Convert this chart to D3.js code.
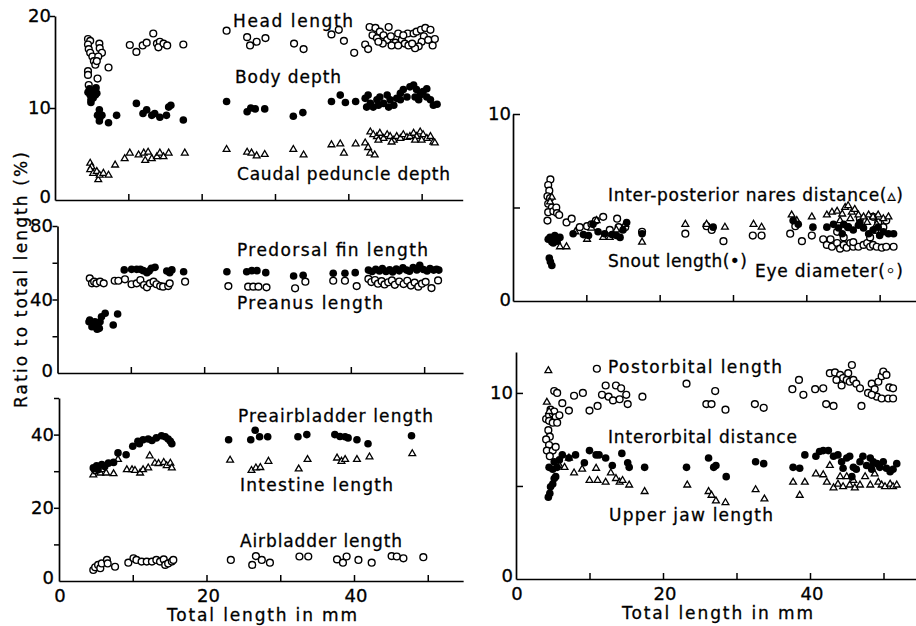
<!DOCTYPE html>
<html><head><meta charset="utf-8">
<script src="https://cdn.jsdelivr.net/npm/d3@7/dist/d3.min.js"></script>
<style>
html,body{margin:0;padding:0;background:#fff;}
svg{display:block;}
text{font-family:"DejaVu Sans",sans-serif;fill:#000;stroke:#000;stroke-width:0.3px;}
</style>
</head><body>
<svg id="chart" width="916" height="626"></svg>
<script>
// ---------------- DATA: [total length (mm), ratio to total length (%)] ----------------
const headLength = [[4.5,17.5],[4.8,17.3],[4.5,16.9],[4.6,16.4],[4.8,16.0],[5.1,15.6],[5.3,15.1],[5.5,14.7],[6.05,17.0],[6.1,16.5],[6.4,16.0],[5.9,15.6],[5.7,15.1],[4.5,14.0],[4.5,13.6],[5.8,13.2],[4.6,12.5],[7.3,14.4],[10.2,16.85],[11.1,16.1],[11.96,16.8],[12.5,17.1],[13.4,18.1],[13.9,17.0],[14.3,17.2],[14.1,16.6],[14.8,17.0],[15.3,16.8],[17.5,16.9],[23.4,18.4],[26.2,17.7],[26.6,16.8],[27.5,17.2],[28.7,17.6],[32.6,17.0],[33.9,16.4],[37.7,18.0],[38.7,18.5],[39.4,17.3],[40.8,16.0],[42.3,16.9],[42.7,16.4],
[42.9,18.8],[43.7,18.7],[44.3,18.3],[45.5,18.8],[43.3,17.9],[43.9,17.6],[44.8,17.9],[45.3,17.4],[45.8,17.8],[46.4,17.1],[46.8,18.1],[47.3,17.4],[47.7,17.0],[48.2,16.8],[48.1,18.1],[48.9,18.1],[49.3,18.3],[49.9,18.5],[50.5,18.7],[50.3,17.8],[50.0,17.2],[49.6,16.7],[49.1,16.5],[48.7,17.0],[50.9,17.4],[51.5,16.8],[51.8,17.5],[51.2,18.5],[44.7,17.0],[45.9,16.8],[46.8,16.8],[47.5,17.9],[44.1,17.2]];
const bodyDepth = [[4.7,12.1],[5.0,11.8],[5.3,11.9],[4.8,11.4],[5.5,11.4],[4.9,10.9],[5.2,11.1],[5.7,11.6],[5.6,12.2],[4.5,11.7],[4.9,10.6],[6.05,9.8],[5.8,9.2],[6.1,8.9],[6.4,9.2],[6.05,8.6],[7.3,8.4],[8.4,9.2],[11.1,10.5],[12.0,9.4],[12.5,9.8],[13.2,9.2],[13.6,9.4],[14.3,9.0],[15.2,9.2],[15.5,10.1],[15.8,10.3],[17.5,8.7],[23.4,10.7],[26.2,9.6],[26.7,10.0],[27.3,9.9],[28.6,9.9],[32.5,9.1],[33.8,9.5],[37.7,10.7],[38.9,11.4],[39.6,10.6],[41.0,10.7],
[42.3,11.05],[42.7,11.4],[43.0,10.5],[43.4,10.1],[43.9,10.9],[44.3,11.2],[44.8,10.5],[45.3,11.4],[45.7,10.9],[46.2,10.3],[46.6,11.05],[47.1,11.6],[47.5,12.0],[48.0,11.2],[48.4,12.3],[48.9,12.5],[49.3,12.0],[49.8,11.4],[50.2,11.8],[50.7,11.2],[51.2,10.9],[51.6,10.3],[52.1,10.4],[49.6,10.9],[49.1,11.2],[42.5,10.1],[44.1,10.3],[45.5,10.1],[47.1,10.9],[50.7,12.1]];
const caudalPeduncleDepth = [[4.8,4.0],[5.0,3.6],[4.8,3.3],[5.2,2.9],[5.7,3.1],[5.9,2.2],[6.1,2.7],[6.6,2.9],[7.3,2.7],[8.2,3.8],[9.5,4.5],[10.2,5.1],[11.4,4.9],[12.1,5.1],[12.7,5.2],[12.3,4.3],[13.2,4.5],[13.9,4.7],[14.3,5.1],[14.8,4.7],[15.5,5.1],[17.7,5.1],[23.4,5.5],[26.2,5.2],[26.8,5.1],[27.5,4.8],[28.6,4.95],[32.5,5.5],[33.9,4.9],[37.7,6.0],[38.9,6.1],[39.4,5.1],[41.0,6.1],[42.3,6.2],[42.7,5.7],[43.0,5.1],[43.6,4.9],
[43.0,7.4],[43.4,7.1],[43.9,6.9],[44.3,7.25],[44.8,6.7],[45.3,7.1],[45.7,6.9],[46.2,6.5],[46.6,6.9],[47.1,6.7],[47.5,7.1],[48.0,6.8],[48.4,6.9],[48.9,7.25],[49.3,6.9],[49.8,7.4],[50.2,7.1],[50.7,6.7],[51.2,6.9],[51.6,6.3],[51.8,6.2],[44.1,6.5],[45.9,6.3],[49.1,6.5],[50.0,6.5]];

const predorsalFinLength = [[4.4,28.8],[4.8,27.0],[5.1,27.9],[4.7,25.2],[5.3,26.1],[5.7,24.3],[5.8,27.9],[6.0,30.6],[6.5,32.5],[7.6,26.1],[8.2,32.1],[4.3,27.9],[5.4,23.8],
[9.1,56.1],[10.1,56.4],[10.8,56.4],[11.3,56.4],[11.7,55.7],[12.2,54.6],[12.5,55.5],[12.8,57.0],[13.3,57.5],[14.9,55.5],[15.3,54.6],[15.6,56.1],[17.2,55.1],[23.1,55.1],[25.8,55.1],[26.5,55.7],[27.2,55.7],[28.4,54.6],[32.2,52.8],[33.5,53.2],[37.6,54.3],[39.2,54.3],[40.6,54.6],
[42.4,56.0],[42.9,55.2],[43.4,56.4],[43.9,55.5],[44.3,56.8],[44.8,55.3],[45.3,56.2],[45.7,55.0],[46.2,56.6],[46.6,55.6],[47.1,57.2],[47.6,56.0],[48.0,55.4],[48.5,57.4],[49.0,56.1],[49.4,58.6],[49.9,56.3],[50.4,55.5],[50.8,56.8],[51.3,56.0],[51.7,56.5],[52.0,56.0]];
const preanusLength = [[4.4,51.5],[4.7,48.8],[5.0,49.7],[5.3,48.8],[5.8,49.7],[6.3,48.8],[7.8,50.2],[8.3,50.2],[9.2,51.0],[10.1,48.3],[10.8,48.8],[11.3,50.6],[11.8,47.9],[12.2,46.6],[12.6,48.8],[13.1,49.7],[13.5,48.3],[14.0,47.3],[14.4,47.0],[15.1,47.3],[15.3,48.8],[17.4,49.7],[23.3,47.3],[26.0,47.0],[26.7,47.0],[27.4,47.0],[28.5,46.6],[32.4,46.1],[33.8,49.7],[37.6,50.2],[39.2,50.2],[40.8,47.3],
[42.4,51.2],[42.8,49.5],[43.3,50.6],[43.7,48.6],[44.2,50.0],[44.6,48.2],[45.1,49.4],[45.6,50.4],[46.0,48.0],[46.6,49.8],[47.2,48.4],[47.7,50.2],[48.2,47.6],[48.7,49.2],[49.2,47.0],[49.7,48.6],[50.2,49.6],[51.0,46.2],[51.9,50.4]];

const preairbladderLength = [[4.65,30.9],[5.1,31.5],[5.3,30.4],[5.8,31.8],[6.2,31.3],[6.7,32.2],[7.4,32.4],[8.0,35.0],[9.1,34.5],[10.0,36.8],[10.7,38.2],[10.9,37.5],[11.4,38.6],[12.1,38.8],[12.6,38.4],[13.2,39.1],[13.9,39.7],[14.4,39.4],[14.8,38.8],[15.1,38.2],[15.3,37.5],[23.0,38.6],[26.0,38.6],[26.6,41.2],[27.2,39.4],[28.3,39.4],[32.4,39.4],[33.6,40.0],[37.4,40.0],[38.1,39.5],[38.8,39.4],[39.2,39.1],[40.4,38.6],[41.9,37.5],[47.8,39.7]];
const intestineLength = [[4.65,29.0],[4.9,30.4],[5.1,29.9],[5.6,29.5],[5.8,30.4],[6.4,29.5],[7.4,29.3],[8.0,33.2],[9.2,30.4],[9.9,30.4],[10.3,30.2],[11.0,29.5],[11.4,30.4],[12.1,30.9],[12.3,34.2],[13.0,32.2],[13.5,32.1],[14.2,32.4],[14.6,31.5],[15.1,32.2],[15.3,30.9],[23.2,33.0],[26.1,30.2],[26.7,30.9],[27.3,31.0],[28.4,32.7],[32.5,30.6],[33.7,33.2],[37.7,33.6],[38.3,32.7],[38.8,33.2],[40.4,33.2],[42.1,33.9],[47.9,34.8]];
const airbladderLength = [[4.65,3.0],[4.9,3.75],[5.3,4.4],[5.6,3.5],[5.8,4.8],[6.5,5.75],[6.6,4.8],[7.6,3.9],[9.4,5.0],[10.1,6.2],[10.5,5.75],[11.2,5.3],[11.9,5.3],[12.6,5.3],[13.2,5.75],[13.7,5.3],[14.2,5.9],[14.4,4.4],[14.8,4.8],[15.3,5.3],[15.5,5.75],[23.3,5.75],[26.2,4.4],[26.7,6.8],[27.5,5.75],[28.6,5.0],[32.6,6.7],[33.8,6.7],[37.7,5.9],[38.5,5.0],[39.0,6.7],[40.6,5.75],[42.4,5.0],[45.1,6.8],[45.8,6.7],[46.7,6.2],[49.4,6.5]];

const interPosteriorNares = [[5.3,5.55],[5.05,5.3],[6.0,3.2],[6.4,2.9],[7.3,2.9],[8.5,3.7],[10.1,3.3],[10.7,3.9],[11.4,4.3],[12.3,3.4],[13.2,3.4],[14.1,3.8],[15.3,4.1],[17.6,3.15],[23.5,4.1],[26.4,4.1],[28.9,3.95],[32.8,4.1],[33.9,3.95],[38.0,4.6],[38.7,4.3],[40.75,4.5],
[42.8,4.6],[43.5,4.75],[44.2,4.8],[44.9,4.65],[45.3,5.0],[45.7,5.1],[46.2,4.75],[46.6,4.9],[47.1,4.6],[47.8,4.5],[48.5,4.6],[49.1,4.5],[49.8,4.6],[50.5,4.4],[51.2,4.5],[44.6,4.3],[46.0,4.4],[48.3,4.2],[49.6,4.1]];
const snoutLength = [[5.05,3.4],[5.3,3.15],[5.5,3.1],[4.8,3.3],[6.0,3.2],[5.7,3.5],[6.4,3.4],[4.95,2.3],[5.1,2.1],[5.3,1.9],[8.2,3.6],[9.6,3.55],[10.3,3.5],[10.9,4.1],[11.6,3.7],[12.5,3.6],[13.5,3.55],[14.1,3.5],[14.6,3.4],[15.5,4.2],[15.0,3.8],[17.6,3.6],[27.3,3.95],[38.2,4.3],[38.9,4.1],[40.9,3.95],
[42.8,3.95],[43.7,4.1],[44.4,3.9],[45.1,4.1],[45.7,3.95],[46.4,3.8],[47.1,4.05],[47.8,3.9],[48.5,3.6],[49.1,3.8],[49.8,3.95],[50.5,3.7],[51.2,3.6],[51.9,3.6],[44.9,3.6],[47.3,4.2],[50.0,3.5]];
const eyeDiameter = [[5.1,6.5],[4.8,6.2],[4.95,5.9],[4.7,5.6],[5.05,5.5],[4.8,5.2],[5.3,5.0],[4.8,4.75],[5.5,4.8],[5.9,5.0],[6.0,4.7],[6.3,4.6],[4.7,4.3],[7.3,4.2],[8.0,4.4],[9.1,3.95],[10.1,4.0],[10.7,4.1],[11.3,4.3],[12.3,4.5],[13.2,3.8],[14.2,4.4],[14.4,3.95],[15.3,3.95],[17.6,3.7],[23.5,3.6],[26.4,4.0],[27.1,3.8],[28.7,3.2],[32.7,3.5],[33.9,3.5],[37.8,3.6],[38.5,4.0],[39.4,3.2],[40.75,3.5],[42.3,3.3],
[42.8,3.0],[43.5,2.9],[44.2,3.1],[44.6,2.8],[45.1,3.0],[45.5,2.85],[46.0,3.1],[46.4,2.9],[47.1,2.9],[47.8,3.0],[48.3,3.1],[48.7,2.9],[49.1,3.0],[49.6,2.9],[50.3,2.85],[50.9,2.9],[51.9,2.9],[43.3,3.3],[45.1,3.4],[46.4,3.15],[48.7,3.4],[49.1,4.5],[49.8,4.2],[50.5,3.95],[49.4,3.8],[50.9,4.3],[44.2,3.7],[45.7,3.95],[47.3,4.4]];

const postorbitalLength = [[4.1,8.6],[4.5,8.8],[5.0,8.9],[4.7,9.1],[5.2,9.0],[5.4,8.7],[4.5,8.5],[5.0,8.4],[5.6,8.4],[4.4,8.0],[4.6,7.65],[4.1,7.5],[4.5,7.2],[4.2,6.9],[5.0,6.9],[5.4,7.1],[4.6,6.6],[5.2,10.1],[5.6,10.0],[5.9,8.8],[6.3,9.45],[7.2,9.05],[7.9,9.85],[9.1,10.0],[10.0,9.05],[11.0,11.3],[11.1,9.3],[11.7,9.9],[12.2,10.4],[12.6,9.8],[13.2,9.6],[13.6,10.4],[14.1,9.66],[14.3,10.25],[15.0,9.9],[15.2,9.4],[17.2,9.8],[23.2,10.5],[25.9,9.4],[26.6,9.4],[27.1,10.1],[28.5,9.1],[32.5,9.4],[33.7,9.2],[37.6,10.2],[38.5,10.7],[39.1,9.9],[40.7,10.2],[41.8,10.25],[42.2,9.4],[43.2,9.3],
[42.7,11.06],[43.4,11.1],[44.1,10.97],[44.5,10.8],[45.0,10.7],[45.4,10.6],[45.9,10.7],[45.2,11.06],[45.7,11.5],[46.3,10.5],[46.8,10.25],[47.0,9.3],[47.9,10.0],[48.4,10.5],[48.8,10.2],[49.1,9.8],[49.3,10.6],[49.75,10.9],[49.97,11.15],[50.4,10.97],[50.8,10.3],[51.3,10.25],[49.75,9.7],[50.65,9.7],[51.3,9.7],[43.6,10.7],[44.3,10.4],[48.4,9.9]];
const interorbitalDistance = [[4.4,4.4],[4.6,4.6],[4.7,4.96],[5.0,5.1],[5.2,5.4],[5.4,5.5],[4.5,6.0],[5.0,5.9],[5.6,6.0],[5.9,6.4],[5.2,6.3],[6.3,6.67],[7.2,6.5],[8.1,6.67],[9.3,6.25],[10.0,6.9],[10.9,6.67],[11.3,6.67],[12.2,6.5],[13.1,6.1],[14.4,6.75],[15.2,6.25],[15.4,6.0],[17.5,6.0],[23.2,6.0],[26.2,6.5],[26.9,6.0],[27.2,6.1],[28.6,5.5],[32.6,6.3],[33.7,6.2],[37.7,6.0],[38.6,5.95],[39.3,6.67],[40.8,6.6],[41.3,6.85],[41.8,6.9],
[42.5,6.9],[43.2,6.6],[43.8,6.67],[44.3,6.3],[45.0,6.5],[45.4,6.6],[45.9,6.0],[46.3,5.9],[46.8,6.3],[47.2,6.6],[47.7,6.1],[48.2,6.5],[48.6,6.3],[49.1,6.2],[49.5,6.0],[49.97,6.3],[50.4,5.95],[50.9,5.77],[51.3,5.9],[51.8,6.2],[44.5,5.95],[45.7,5.5],[48.4,5.9]];
const upperJawLength = [[4.4,11.2],[4.2,9.5],[4.5,9.0],[5.9,6.1],[6.6,6.0],[7.2,6.5],[7.9,5.7],[9.0,5.9],[10.0,5.3],[10.9,5.95],[11.1,5.3],[12.2,5.2],[12.9,5.7],[13.6,5.4],[14.1,5.2],[14.5,5.3],[15.4,5.05],[17.5,4.7],[23.3,5.05],[26.2,4.7],[26.6,4.5],[27.2,4.2],[28.5,4.1],[32.6,4.8],[33.8,4.3],[37.7,5.2],[38.6,4.5],[39.3,5.2],[40.8,5.65],[41.8,5.6],[42.3,5.2],[42.7,6.1],[43.2,4.9],[43.8,5.1],[44.5,4.96],[45.0,5.5],[45.4,5.05],[46.1,4.9],[46.8,5.05],[47.5,5.5],[48.2,5.05],[48.6,6.2],[48.8,5.65],[49.3,5.2],[49.75,5.05],[50.2,4.96],[50.9,5.1],[51.3,4.96],[51.8,5.05],[44.1,5.5],[45.9,5.3]];

// label texts
const leftTitle = "Ratio to total length (%)";
const xTitle = "Total length in mm";

// ---------------- DRAWING ----------------
const svg = d3.select("#chart");
const FS = 17;

function makePanel(cfg){
  const x = d3.scaleLinear().domain([0, cfg.xMax]).range([cfg.x0, cfg.x0 + cfg.xMax*cfg.ppm]);
  const y = d3.scaleLinear().domain(cfg.yDomain).range(cfg.yRange);
  const g = svg.append("g");
  g.append("g").attr("transform",`translate(0,${y(0)})`)
    .call(d3.axisBottom(x).tickValues([10,20,30,40,50]).tickSize(-6).tickSizeOuter(0).tickFormat(""));
  g.append("g").attr("transform",`translate(${x(0)},0)`)
    .call(d3.axisLeft(y).tickValues(cfg.yTicks).tickSize(cfg.yTickSize).tickSizeOuter(0).tickFormat(""));
  g.selectAll(".domain").attr("stroke","#000").attr("stroke-width",1.7);
  g.selectAll(".tick line").attr("stroke","#000").attr("stroke-width",1.5);
  cfg.yLabels.forEach(v=>{
    g.append("text").attr("x", cfg.yLabelX).attr("y", y(v)+6 + (v===0?cfg.zeroDy:0))
      .attr("text-anchor","end").attr("font-size",FS+1).text(v);
  });
  return {x,y,g};
}

function drawSeries(p, data, kind){
  const sel = p.g.append("g");
  if(kind==="filled"){
    sel.selectAll("circle").data(data).join("circle")
      .attr("cx",d=>p.x(d[0])).attr("cy",d=>p.y(d[1])).attr("r",3.8).attr("fill","#000");
  } else if(kind==="open"){
    sel.selectAll("circle").data(data).join("circle")
      .attr("cx",d=>p.x(d[0])).attr("cy",d=>p.y(d[1])).attr("r",3.4)
      .attr("fill","#fff").attr("stroke","#000").attr("stroke-width",1.4);
  } else {
    const tri = d3.symbol().type(d3.symbolTriangle).size(20);
    sel.selectAll("path").data(data).join("path")
      .attr("transform",d=>`translate(${p.x(d[0])},${p.y(d[1])})`).attr("d",tri)
      .attr("fill","#fff").attr("stroke","#000").attr("stroke-width",1.3);
  }
}

function label(txt, x, y, w){
  svg.append("text").attr("x",x).attr("y",y).attr("font-size",FS)
    .attr("textLength",w).attr("lengthAdjust","spacing").text(txt);
}

const p1 = makePanel({x0:55, ppm:7.333, xMax:55.6, yDomain:[0,20], yRange:[200,16], yTicks:[10,20], yTickSize:5, yLabels:[20,10,0], yLabelX:51, zeroDy:-3});
drawSeries(p1, headLength, "open");
drawSeries(p1, caudalPeduncleDepth, "tri");
drawSeries(p1, bodyDepth, "filled");
const p2 = makePanel({x0:57.5, ppm:7.333, xMax:55.3, yDomain:[0,80], yRange:[373,226], yTicks:[20,40,60,80], yTickSize:5, yLabels:[80,40,0], yLabelX:53, zeroDy:-2});
drawSeries(p2, preanusLength, "open");
drawSeries(p2, predorsalFinLength, "filled");
const p3 = makePanel({x0:59, ppm:7.375, xMax:54.8, yDomain:[0,50], yRange:[581,398], yTicks:[10,20,30,40,50], yTickSize:5, yLabels:[40,20,0], yLabelX:54, zeroDy:-3});
drawSeries(p3, airbladderLength, "open");
drawSeries(p3, intestineLength, "tri");
drawSeries(p3, preairbladderLength, "filled");
const p4 = makePanel({x0:513, ppm:7.333, xMax:55, yDomain:[0,10], yRange:[301,114], yTicks:[5,10], yTickSize:-7, yLabels:[10,0], yLabelX:511, zeroDy:-1});
drawSeries(p4, eyeDiameter, "open");
drawSeries(p4, interPosteriorNares, "tri");
drawSeries(p4, snoutLength, "filled");
const p5 = makePanel({x0:516, ppm:7.35, xMax:55, yDomain:[0,12.2], yRange:[579,352], yTicks:[5,10], yTickSize:-7, yLabels:[10,0], yLabelX:513, zeroDy:-3});
drawSeries(p5, postorbitalLength, "open");
drawSeries(p5, upperJawLength, "tri");
drawSeries(p5, interorbitalDistance, "filled");

[p3,p5].forEach(p=>{
  [0,20,40].forEach(v=>{
    p.g.append("text").attr("x",p.x(v)+(v===0?1:2)).attr("y",p.y(0)+21)
      .attr("text-anchor","middle").attr("font-size",FS+1).text(v);
  });
});
label(xTitle, 167, 621, 190);
label(xTitle, 622, 619, 191);

label("Head  length", 233, 27, 120);
label("Body  depth", 235, 83, 106);
label("Caudal  peduncle  depth", 237, 180, 213);
label("Predorsal  fin  length", 237, 256, 191);
label("Preanus  length", 237, 309, 146);
label("Preairbladder  length", 238, 422, 195);
label("Intestine  length", 240, 491, 153);
label("Airbladder  length", 240, 547, 162);
label("Inter-posterior  nares  distance(\u25B5)", 608, 201, 295);
label("Snout  length(\u2022)", 608, 267, 139);
label("Eye  diameter(\u25E6)", 755, 277, 148);
label("Postorbital  length", 608, 373, 174);
label("Interorbital  distance", 608, 443, 189);
label("Upper  jaw  length", 609, 521, 164);

svg.append("text").attr("transform","translate(27,280) rotate(-90)")
  .attr("text-anchor","middle").attr("font-size",FS)
  .attr("textLength",256).attr("lengthAdjust","spacing").text(leftTitle);
</script>
</body></html>
